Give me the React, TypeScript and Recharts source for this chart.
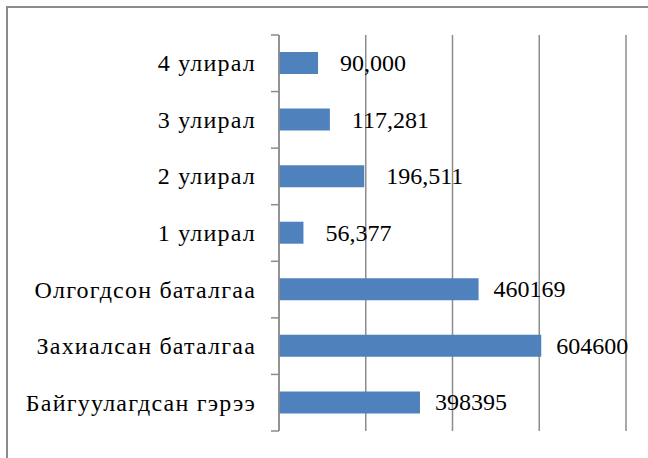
import React from "react";
import { BarChart, Bar, XAxis, YAxis, CartesianGrid, LabelList, Customized } from "recharts";

const categories = [
  "4 улирал",
  "3 улирал",
  "2 улирал",
  "1 улирал",
  "Олгогдсон баталгаа",
  "Захиалсан баталгаа",
  "Байгуулагдсан гэрээ",
];
// bar lengths as drawn in the picture (the last bar is drawn shorter than its label says)
const values = [90000, 117281, 196511, 56377, 460169, 604600, 325000];
const valueLabels = ["90,000", "117,281", "196,511", "56,377", "460169", "604600", "398395"];
const xTicks = [0, 200000, 400000, 600000, 800000];

const data = categories.map((name, i) => ({ name, value: values[i], label: valueLabels[i] }));

const FONT = "Liberation Serif";
const GRAY = "#8c8c8c";

const CategoryTick = (props: any) => {
  const { x, y, payload, index } = props;
  const half = payload && payload.offset ? payload.offset : 28.3;
  const axisX = x + 24;
  return (
    <g>
      <text x={x + 1} y={y} textAnchor="end" dominantBaseline="central" fontFamily={FONT} fontSize={24} letterSpacing={1.2} fill="#000">
        {payload.value}
      </text>
      <line x1={axisX - 8} x2={axisX} y1={y - half} y2={y - half} stroke={GRAY} strokeWidth={1.5} />
      {index === categories.length - 1 && (
        <line x1={axisX - 8} x2={axisX} y1={y + half} y2={y + half} stroke={GRAY} strokeWidth={1.5} />
      )}
    </g>
  );
};

const EmptyTick = () => <g />;

const ValueLabel = (props: any) => {
  const { x, y, width, height, value } = props;
  const s = String(value);
  const gap = s.includes(",") ? 22 : 15;
  return (
    <text x={x + width + gap} y={y + height / 2} dominantBaseline="central" fontFamily={FONT} fontSize={24} fill="#000">
      {s}
    </text>
  );
};

const Frame = () => <path d="M7 458 L7 7 L648 7" fill="none" stroke={GRAY} strokeWidth={2} />;

export default function App() {
  return (
    <div style={{ position: "relative", width: 648, height: 458, overflow: "hidden", background: "#fff" }}>
      <style>{"body{margin:0}"}</style>
      <BarChart
        width={648}
        height={458}
        data={data}
        layout="vertical"
        margin={{ top: 35, right: 22, bottom: 26, left: 0 }}
      >
        <Customized component={Frame} />
        <CartesianGrid horizontal={false} stroke={GRAY} strokeWidth={1.5} />
        <XAxis
          type="number"
          domain={[0, 800000]}
          ticks={xTicks}
          tick={<EmptyTick />}
          axisLine={false}
          tickLine={false}
          height={1}
          interval={0}
        />
        <YAxis
          type="category"
          dataKey="name"
          width={279}
          tick={<CategoryTick />}
          tickLine={false}
          tickSize={0}
          tickMargin={24}
          axisLine={{ stroke: GRAY, strokeWidth: 1.5 }}
          interval={0}
        />
        <Bar dataKey="value" fill="#4F81BD" barSize={22} isAnimationActive={false}>
          <LabelList dataKey="label" content={<ValueLabel />} />
        </Bar>
      </BarChart>
    </div>
  );
}
